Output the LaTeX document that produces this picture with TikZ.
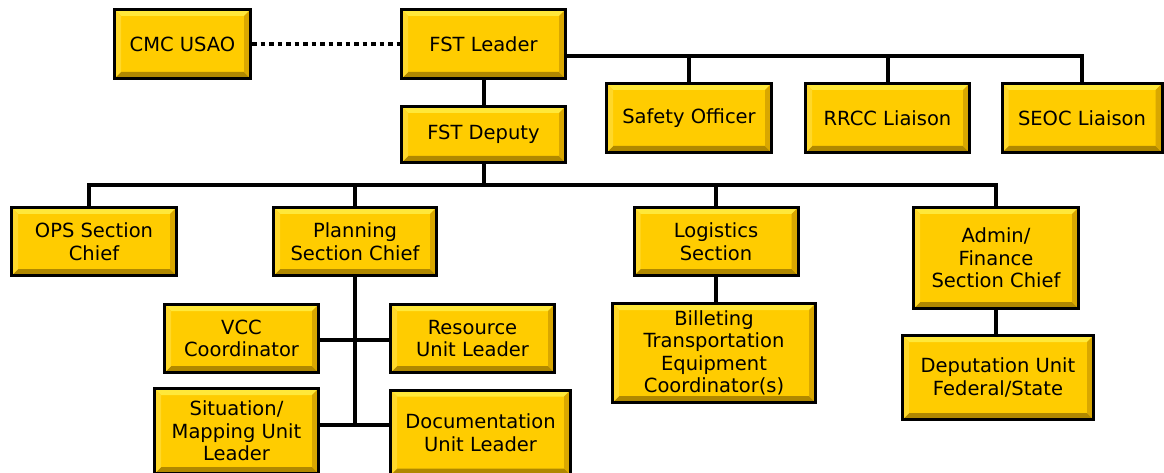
\documentclass[tikz,border=0pt]{standalone}
\usepackage{fontspec}
\setmainfont{DejaVu Sans}
\definecolor{gold}{HTML}{FFCC00}
\definecolor{bevT}{HTML}{FFE83A}
\definecolor{bevL}{HTML}{FFD82A}
\definecolor{bevR}{HTML}{D9A700}
\definecolor{bevB}{HTML}{B08800}
\tikzset{
  ybox/.style 2 args={draw=black, line width=3pt, fill=gold, rectangle,
    inner sep=0pt, align=center, minimum width=#1, minimum height=#2,
    font=\fontsize{19.5}{22.5}\selectfont,
    path picture={
      \fill[bevT] (path picture bounding box.north west) -- (path picture bounding box.north east)
        -- ([shift={(-6.5pt,-6.5pt)}]path picture bounding box.north east)
        -- ([shift={(6.5pt,-6.5pt)}]path picture bounding box.north west) -- cycle;
      \fill[bevB] (path picture bounding box.south west) -- (path picture bounding box.south east)
        -- ([shift={(-6.5pt,6.5pt)}]path picture bounding box.south east)
        -- ([shift={(6.5pt,6.5pt)}]path picture bounding box.south west) -- cycle;
      \fill[bevL] (path picture bounding box.north west) -- (path picture bounding box.south west)
        -- ([shift={(6.5pt,6.5pt)}]path picture bounding box.south west)
        -- ([shift={(6.5pt,-6.5pt)}]path picture bounding box.north west) -- cycle;
      \fill[bevR] (path picture bounding box.north east) -- (path picture bounding box.south east)
        -- ([shift={(-6.5pt,6.5pt)}]path picture bounding box.south east)
        -- ([shift={(-6.5pt,-6.5pt)}]path picture bounding box.north east) -- cycle;
    }},
  conn/.style={line width=4pt, draw=black},
  dotconn/.style={line width=4.5pt, draw=black, dash pattern=on 4.5pt off 4pt}
}
\begin{document}
\begin{tikzpicture}[x=1pt, y=-1pt]
\useasboundingbox (0,0) rectangle (1164,473);
% top row
\node[ybox={136pt}{69pt}] (cmc) at (182.5,44) {CMC USAO};
\node[ybox={164pt}{69pt}] (leader) at (483.5,44) {FST Leader};
\node[ybox={164pt}{56pt}] (deputy) at (483.5,134.5) {FST Deputy};
\node[ybox={165pt}{69pt}] (safety) at (689,118) {Safety Officer};
\node[ybox={164pt}{69pt}] (rrcc) at (887.5,118) {RRCC Liaison};
\node[ybox={160pt}{69pt}] (seoc) at (1082,118) {SEOC Liaison};
% sections
\node[ybox={165pt}{68pt}] (ops) at (94,241.5) {OPS Section\\Chief};
\node[ybox={163pt}{68pt}] (planning) at (355,241.5) {Planning\\Section Chief};
\node[ybox={164pt}{68pt}] (logistics) at (716,241.5) {Logistics\\Section};
\node[ybox={165pt}{101pt}] (admin) at (996,258) {Admin/\\Finance\\Section Chief};
% units
\node[ybox={154pt}{68pt}] (vcc) at (241.5,338.5) {VCC\\Coordinator};
\node[ybox={164pt}{68pt}] (resource) at (472.5,338.5) {Resource\\Unit Leader};
\node[ybox={164pt}{85pt}] (situation) at (236.5,431) {Situation/\\Mapping Unit\\Leader};
\node[ybox={180pt}{85pt}] (documentation) at (480.5,432.5) {Documentation\\Unit Leader};
\node[ybox={203pt}{99pt}] (billeting) at (714,353) {Billeting\\Transportation\\Equipment\\Coordinator(s)};
\node[ybox={191pt}{84pt}] (deputation) at (998,377.5) {Deputation Unit\\Federal/State};
% bus coordinates
\coordinate (topbus) at (0,56);
\coordinate (midbus) at (0,185);
\coordinate (midbar) at (0,340);
\coordinate (lowbar) at (0,425);
% connectors
\draw[dotconn] (cmc.east) -- (leader.west);
\draw[conn] (leader.south) -- (deputy.north);
\draw[conn] (leader.east |- topbus) -| (seoc.north);
\draw[conn] (safety.north) -- (safety.north |- topbus);
\draw[conn] (rrcc.north) -- (rrcc.north |- topbus);
\draw[conn] (deputy.south) -- (deputy.south |- midbus);
\draw[conn] ([xshift=-5pt]ops.north) |- (admin.north |- midbus) -- (admin.north);
\draw[conn] (planning.north) -- (planning.north |- midbus);
\draw[conn] (logistics.north) -- (logistics.north |- midbus);
\draw[conn] (planning.south) -- (planning.south |- lowbar);
\draw[conn] (vcc.east |- midbar) -- (resource.west |- midbar);
\draw[conn] (situation.east |- lowbar) -- (documentation.west |- lowbar);
\draw[conn] (logistics.south) -- (logistics.south |- billeting.north);
\draw[conn] (admin.south) -- (admin.south |- deputation.north);
\end{tikzpicture}
\end{document}
